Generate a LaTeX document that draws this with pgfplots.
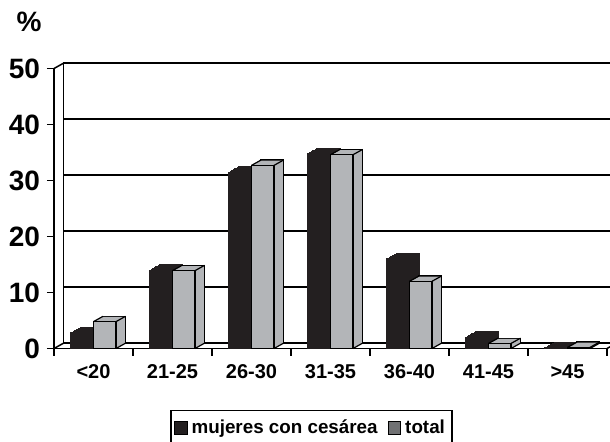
\documentclass[border=0pt]{standalone}
\usepackage{fontspec}
\setmainfont{Liberation Sans}
\usepackage{pgfplots}
\usepackage{pgfplotstable}
\pgfplotsset{compat=1.18}
\definecolor{barblack}{HTML}{231F20}
\definecolor{bargray}{HTML}{B3B5B8}
\definecolor{leggray}{HTML}{707173}

\pgfplotstableread{
x b g
0 2.8 4.8
1 14.0 13.9
2 31.5 32.7
3 34.8 34.6
4 16.0 12.0
5 2.0 0.9
6 0.1 0.2
}\datatab

% depth offset: 4.75pt x 2.65pt  (= 0.1203 x-units, 0.946 y-units)
\pgfplotsset{
  common/.style={
    scale only axis, width=276.5pt, height=140pt,
    xmin=-0.5, xmax=6.5, ymin=0, ymax=50,
    clip=false,
  },
  bk/.style={ybar, bar width=11.25pt, bar shift=-5.625pt, fill=barblack, draw=barblack, line width=0.6pt, forget plot},
  gr/.style={ybar, bar width=11.25pt, bar shift=5.625pt, fill=bargray, draw=black, line width=0.6pt, forget plot},
  fl/.style={draw=none, forget plot},
}

\begin{document}
\begin{tikzpicture}
\useasboundingbox (0,0) rectangle (305pt,220.5pt);
\clip (0,0) rectangle (305pt,220.5pt);

% back wall
\begin{axis}[common, at={(31.75pt,48.9pt)}, anchor=south west,
  axis x line=none, axis y line*=left,
  axis line style={line width=0.75pt, black, -},
  ytick={0,10,...,50}, yticklabels={}, major tick length=0pt,
  ymajorgrids, major grid style={line width=0.75pt, black}]
\addplot[draw=none, forget plot] coordinates {(0,0)};
\end{axis}

% front
\begin{axis}[common, at={(27pt,46.25pt)}, anchor=south west,
  axis x line*=bottom, axis y line*=left,
  axis line style={line width=0.75pt, black, -},
  tick align=outside, major tick length=3.5pt,
  tick style={line width=0.75pt, black},
  ytick={0,10,...,50},
  /pgf/number format/assume math mode=true,
  yticklabel style={font=\bfseries\fontsize{14}{16}\selectfont, xshift=0pt},
  xtick={-0.5,0.5,...,6.5}, xticklabels={},
  extra x ticks={0,1,2,3,4,5,6},
  extra x tick labels={<20,21-25,26-30,31-35,36-40,41-45,>45},
  extra x tick style={major tick length=0pt,
     tick label style={font=\bfseries\fontsize{10}{12}\selectfont, yshift=-4.5pt}},
  legend columns=2,
  legend style={at={(0.4656,-0.2196)}, anchor=north, draw=black, line width=0.7pt,
    font=\bfseries\fontsize{9.4}{11}\selectfont, inner xsep=1.5pt, inner ysep=2.5pt,
    /tikz/every even column/.append style={column sep=3pt}},
]
% black series: back, intermediate, front
\addplot[bk, xshift=4.75pt, yshift=2.65pt] table[x=x,y=b]{\datatab};
\addplot[bk, xshift=4.16pt, yshift=2.32pt] table[x=x,y=b]{\datatab};
\addplot[bk, xshift=3.56pt, yshift=1.99pt] table[x=x,y=b]{\datatab};
\addplot[bk, xshift=2.97pt, yshift=1.66pt] table[x=x,y=b]{\datatab};
\addplot[bk, xshift=2.38pt, yshift=1.33pt] table[x=x,y=b]{\datatab};
\addplot[bk, xshift=1.78pt, yshift=0.99pt] table[x=x,y=b]{\datatab};
\addplot[bk, xshift=1.19pt, yshift=0.66pt] table[x=x,y=b]{\datatab};
\addplot[bk, xshift=0.59pt, yshift=0.33pt] table[x=x,y=b]{\datatab};
\addplot[bk] table[x=x,y=b]{\datatab};
% gray series
\addplot[gr, xshift=4.75pt, yshift=2.65pt] table[x=x,y=g]{\datatab};
\addplot[gr, fl, xshift=4.16pt, yshift=2.32pt] table[x=x,y=g]{\datatab};
\addplot[gr, fl, xshift=3.56pt, yshift=1.99pt] table[x=x,y=g]{\datatab};
\addplot[gr, fl, xshift=2.97pt, yshift=1.66pt] table[x=x,y=g]{\datatab};
\addplot[gr, fl, xshift=2.38pt, yshift=1.33pt] table[x=x,y=g]{\datatab};
\addplot[gr, fl, xshift=1.78pt, yshift=0.99pt] table[x=x,y=g]{\datatab};
\addplot[gr, fl, xshift=1.19pt, yshift=0.66pt] table[x=x,y=g]{\datatab};
\addplot[gr, fl, xshift=0.59pt, yshift=0.33pt] table[x=x,y=g]{\datatab};
\addplot[gr] table[x=x,y=g]{\datatab};
% gray bar edges (depth diagonals)
\addplot[quiver={u=0.1203, v=0.946}, draw=black, line width=0.6pt, forget plot] table[x=x, y=g]{\datatab};
\addplot[quiver={u=0.1203, v=0.946}, draw=black, line width=0.6pt, forget plot] table[x expr=\thisrow{x}+0.2848, y=g]{\datatab};
\addplot[quiver={u=0.1203, v=0.946}, draw=black, line width=0.6pt, forget plot] table[x expr=\thisrow{x}+0.2848, y expr=0]{\datatab};
% legend entries
\addlegendimage{legend image code/.code={\draw[fill=barblack,draw=black,line width=0.5pt] (0pt,-3pt) rectangle (6.3pt,3.3pt);}}
\addlegendentry{mujeres con cesárea}
\addlegendimage{legend image code/.code={\draw[fill=leggray,draw=black,line width=0.5pt] (0pt,-3pt) rectangle (6.3pt,3.3pt);}}
\addlegendentry{total}
% corner edges of the box
\draw[line width=0.75pt] (axis cs:-0.5,0) -- ++(4.75pt,2.65pt);
\draw[line width=0.75pt] (axis cs:-0.5,50) -- ++(4.75pt,2.65pt);
\draw[line width=0.75pt] (axis cs:6.5,0) -- ++(4.75pt,2.65pt);
\end{axis}

\node[font=\bfseries\fontsize{14}{16}\selectfont] at (14.5pt,209.5pt) {\%};
\end{tikzpicture}
\end{document}
